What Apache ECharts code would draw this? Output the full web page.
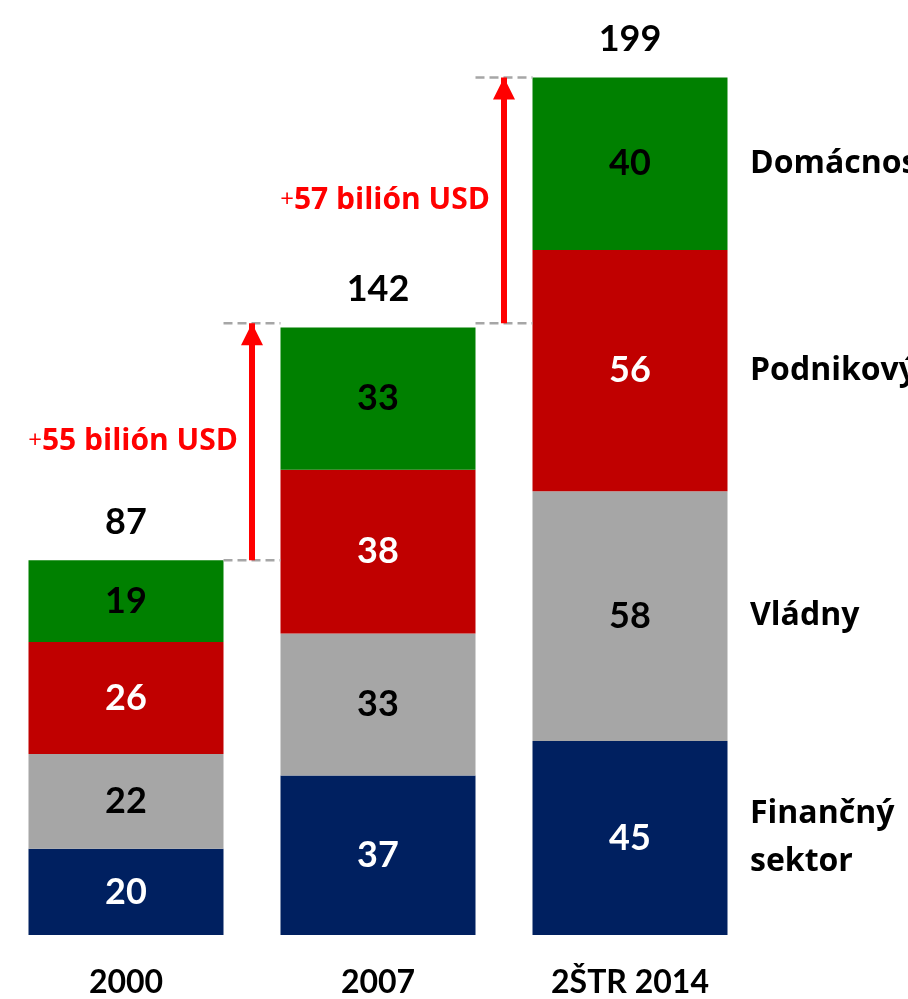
<!DOCTYPE html>
<html>
<head>
<meta charset="utf-8">
<script src="https://cdn.jsdelivr.net/npm/echarts@6/dist/echarts.min.js"></script>
<style>
    html, body { margin: 0; background: #fff; }
    #chart { width: 908px; height: 999px; }
</style>
</head>
<body>
<div id="chart"></div>
<script>
    // hodnoty zo schémy (bilión USD)
    const years = ['2000', '2007', '2ŠTR 2014'];
    const sectorNames = ['Finančný\nsektor', 'Vládny', 'Podnikový', 'Domácnosti'];
    const financial = [20, 37, 45];
    const government = [22, 33, 58];
    const corporate = [26, 38, 56];
    const households = [19, 33, 40];
    const totals = [87, 142, 199];

    const colors = ['#002060', '#A6A6A6', '#C00000', '#008000'];
    const labelColors = ['#ffffff', '#000000', '#ffffff', '#000000'];
    const font = 'Lato';
    const sideFont = 'Open Sans';
    const barWidth = 195;
    const gridWidth = 756;

    let chart = document.getElementById('chart');
    let myChart = echarts.init(chart);

    const stacks = [financial, government, corporate, households];
    // polovica šírky stĺpca v jednotkách pomocnej osi (1 = jedna kategória)
    const halfBar = barWidth / (gridWidth / years.length) / 2;

    let series = stacks.map((vals, i) => ({
        type: 'bar',
        name: sectorNames[i],
        stack: 'total',
        data: vals,
        barWidth: barWidth,
        itemStyle: { color: colors[i] },
        label: {
            show: true,
            position: 'inside',
            color: labelColors[i],
            fontFamily: font,
            fontWeight: 'bold',
            fontSize: 36
        },
        silent: true
    }));

    // súčty nad stĺpcami (nulový stĺpec na vrchu stohu)
    series.push({
        type: 'bar',
        stack: 'total',
        data: totals.map(() => 0),
        barWidth: barWidth,
        itemStyle: { color: 'transparent' },
        label: {
            show: true,
            position: 'top',
            distance: 20,
            formatter: p => String(totals[p.dataIndex]),
            color: '#000',
            fontFamily: font,
            fontWeight: 'bold',
            fontSize: 36
        },
        silent: true
    });

    // názvy sektorov vpravo od posledného stĺpca
    const last = years.length - 1;
    let acc = 0;
    const sideData = stacks.map((vals, i) => {
        let mid = acc + vals[last] / 2;
        acc += vals[last];
        return { value: [last, mid], name: sectorNames[i] };
    });
    series.push({
        type: 'scatter',
        data: sideData,
        symbolSize: 0,
        itemStyle: { opacity: 1 },
        label: {
            show: true,
            position: 'right',
            distance: 120,
            formatter: '{b}',
            color: '#000',
            fontFamily: sideFont,
            fontWeight: 700,
            fontSize: 32,
            lineHeight: 48
        },
        silent: true
    });

    // prírastky: prerušované čiary, šípky a popisy
    for (let i = 0; i < totals.length - 1; i++) {
        const from = i + halfBar;
        const to = i + 1 - halfBar;
        [totals[i], totals[i + 1]].forEach(level => {
            series.push({
                type: 'line',
                xAxisIndex: 1,
                data: [[from, level], [to, level]],
                symbol: 'none',
                lineStyle: { color: '#A6A6A6', width: 2.5, type: [9, 5] },
                silent: true
            });
        });
        const ax = i + 0.5;
        series.push({
            type: 'line',
            xAxisIndex: 1,
            data: [
                { value: [ax, totals[i]], symbol: 'none' },
                { value: [ax, totals[i + 1]], symbol: 'triangle', symbolSize: 22, symbolOffset: [0, '50%'] }
            ],
            lineStyle: { color: '#FF0000', width: 6 },
            itemStyle: { color: '#FF0000' },
            z: 3,
            silent: true
        });
        series.push({
            type: 'scatter',
            xAxisIndex: 1,
            data: [[ax, (totals[i] + totals[i + 1]) / 2]],
            symbolSize: 0,
            itemStyle: { opacity: 1 },
            label: {
                show: true,
                position: 'left',
                distance: 14,
                formatter: '{p|+}{t|' + (totals[i + 1] - totals[i]) + ' bilión USD}',
                rich: {
                    p: { color: '#FF0000', fontFamily: sideFont, fontSize: 24 },
                    t: { color: '#FF0000', fontFamily: sideFont, fontWeight: 700, fontSize: 30 }
                }
            },
            silent: true
        });
    }

    const option = {
        animation: false,
        grid: {
            left: 0,
            width: gridWidth,
            top: 0,
            bottom: 64,
            containLabel: false,
            outerBoundsMode: 'none'
        },
        xAxis: [
            {
                type: 'category',
                data: years,
                axisLine: { show: false },
                axisTick: { show: false },
                axisLabel: {
                    margin: 32,
                    color: '#000',
                    fontFamily: font,
                    fontWeight: 'bold',
                    fontSize: 32
                }
            },
            {
                type: 'value',
                min: -0.5,
                max: years.length - 0.5,
                show: false
            }
        ],
        yAxis: {
            type: 'value',
            min: 0,
            max: 217,
            show: false
        },
        series: series
    };
    myChart.setOption(option);
</script>
</body>
</html>
